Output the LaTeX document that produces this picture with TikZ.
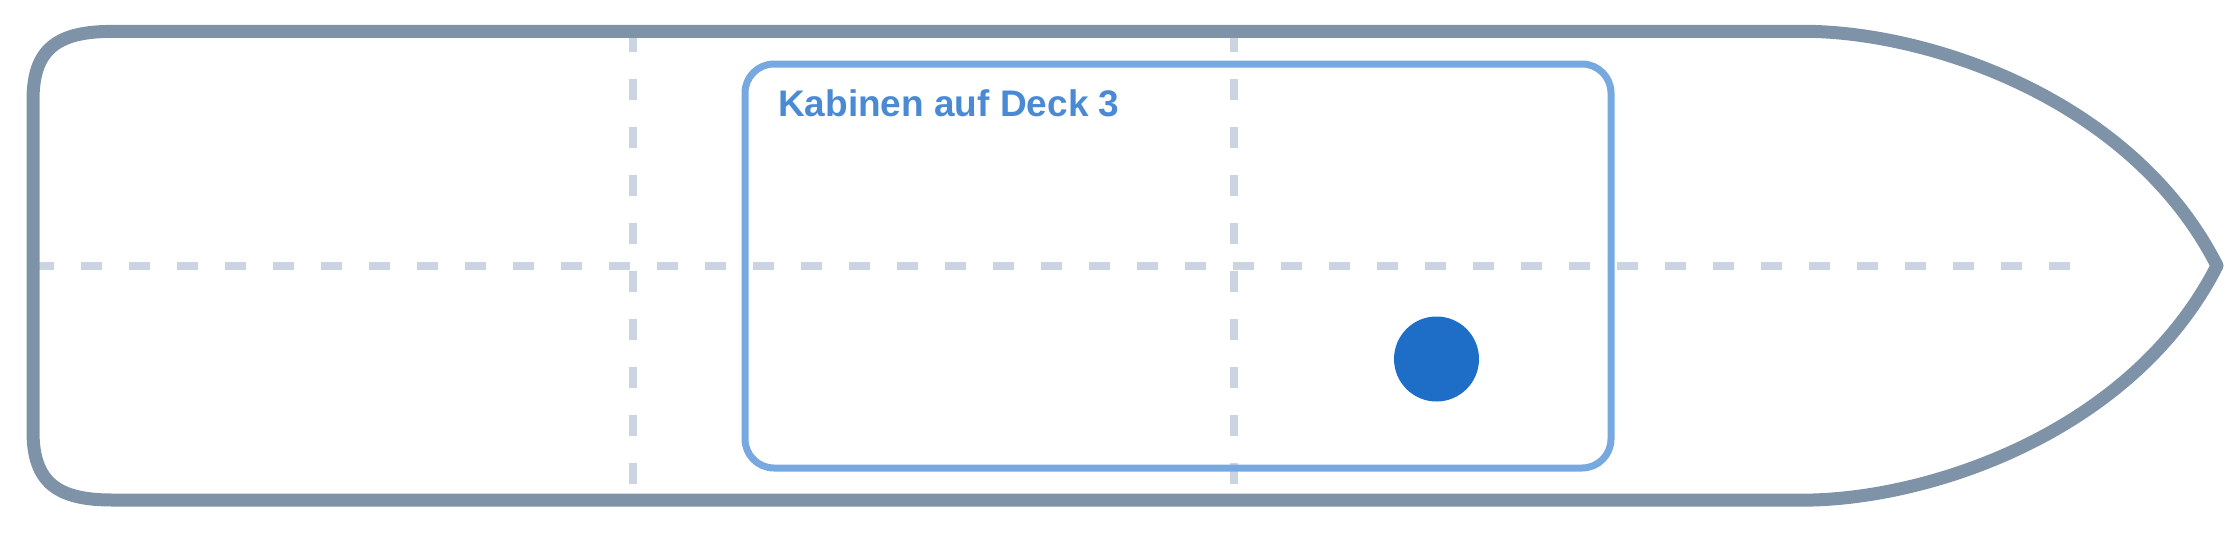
\documentclass[tikz,border=0pt]{standalone}
\usepackage{fontspec}
\setmainfont{Liberation Sans}
\definecolor{hullc}{HTML}{7F93A8}
\definecolor{gridc}{HTML}{CBD5E1}
\definecolor{cabinc}{HTML}{78A8E0}
\definecolor{textc}{HTML}{4A8AD4}
\definecolor{dotc}{HTML}{1E6EC8}
\tikzset{
  hull/.style={draw=hullc, line width=13pt, line join=round},
  grid line/.style={draw=gridc, line width=8pt, dash pattern=on 21pt off 27pt},
  cabin/.style={draw=cabinc, line width=7pt, rounded corners=29pt},
  label/.style={text=textc, font=\fontsize{37}{40}\selectfont\bfseries, inner sep=0pt, anchor=base west},
  marker/.style={circle, fill=dotc, minimum size=85pt, inner sep=0pt}
}
\begin{document}
\begin{tikzpicture}[x=1pt, y=-1pt]
\useasboundingbox (0,0) rectangle (2240,533);
% grid lines
\coordinate (hl) at (33,265.7);
\coordinate (hr) at (2071,265.7);
\coordinate (v1t) at (633,31.4);
\coordinate (v1b) at (633,500);
\coordinate (v2t) at (1234,31.4);
\coordinate (v2b) at (1234,500);
\draw[grid line] (hl) -- (hr);
\draw[grid line] (v1t) -- (v1b);
\draw[grid line] (v2t) -- (v2b);
% hull
\draw[hull] (112,31.4) -- (1813,31.4)
  .. controls (1940,35) and (2135,104) .. (2217,265.7)
  .. controls (2135,427.4) and (1940,496.4) .. (1813,500)
  -- (112,500)
  .. controls (58,500) and (33,483) .. (33,431.4)
  -- (33,100)
  .. controls (33,48.4) and (58,31.4) .. (112,31.4) -- cycle;
% cabin
\draw[cabin] (745,64) rectangle (1611,468);
\node[label] (title) at (778,116.5) {Kabinen auf Deck 3};
\node[marker] (dot) at (1436.5,359) {};
\end{tikzpicture}
\end{document}
